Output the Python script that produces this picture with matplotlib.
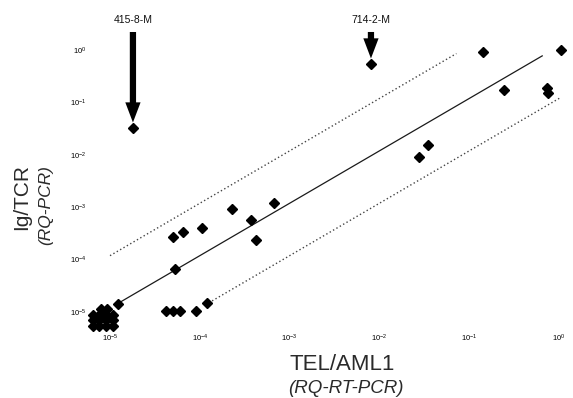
import matplotlib
matplotlib.use("Agg")
import matplotlib.pyplot as plt
from matplotlib.patches import ArrowStyle
import numpy as np

plt.rcParams['font.family'] = ['Liberation Sans', 'DejaVu Sans']

# Quantified MRD samples: TEL/AML1 (RQ-RT-PCR) vs Ig/TCR (RQ-PCR)
tel_aml1 = [5.3e-5, 5.0e-5, 6.5e-5, 1.06e-4, 2.3e-4, 3.7e-4, 4.2e-4, 6.7e-4,
            1.2e-4, 4.2e-5, 5.0e-5, 6.0e-5, 9.1e-5, 1.23e-5,
            2.76e-2, 3.48e-2, 0.143, 1.05, 0.244, 0.735, 0.755]
ig_tcr = [6.6e-5, 2.7e-4, 3.4e-4, 4.0e-4, 9.2e-4, 5.7e-4, 2.37e-4, 1.2e-3,
          1.49e-5, 1.04e-5, 1.04e-5, 1.04e-5, 1.04e-5, 1.42e-5,
          9.1e-3, 1.54e-2, 0.92, 1.0, 0.173, 0.188, 0.151]

# Samples negative by both methods, shown as a block below the detection limit
neg_x = [6.5e-6, 7.6e-6, 9.0e-6, 1.07e-5] * 3 + [7.9e-6, 9.3e-6]
neg_y = [8.8e-6] * 4 + [6.9e-6] * 4 + [5.4e-6] * 4 + [1.12e-5, 1.12e-5]

# Discordant patients
outlier_names = ["415-8-M", "714-2-M"]
outlier_x = [1.8e-5, 8.05e-3]
outlier_y = [3.24e-2, 0.54]
outlier_arrow_px = [108, 44]

# Regression line (log-log) with one-log band either side
fit_slope = 1.0
fit_log_intercept = 0.075
band_decades = 1.0
fit_range = [1.23e-5, 0.65]
upper_range = [1.0e-5, 7.2e-2]
lower_range = [1.37e-4, 1.02]

x_ticks = [1e-5, 1e-4, 1e-3, 1e-2, 1e-1, 1e0]
y_ticks = [1e-5, 1e-4, 1e-3, 1e-2, 1e-1, 1e0]


def line(xr, offset):
    xs = np.array(xr)
    return xs, 10 ** (fit_log_intercept + offset) * xs ** fit_slope


fig = plt.figure(figsize=(5.73, 3.98), dpi=100)
ax = fig.add_axes([0.1536, 0.1683, 0.8412, 0.7312])
ax.set_xscale('log')
ax.set_yscale('log')
ax.set_xlim(10 ** -5.245, 10 ** 0.1225)
ax.set_ylim(10 ** -5.363, 10 ** 0.191)

xs, ys = line(fit_range, 0.0)
ax.plot(xs, ys, color='#1a1a1a', lw=0.9, zorder=2)
xs, ys = line(upper_range, band_decades)
ax.plot(xs, ys, color='#444444', lw=1.0, linestyle=(0, (1, 1.8)), zorder=2)
xs, ys = line(lower_range, -band_decades)
ax.plot(xs, ys, color='#444444', lw=1.0, linestyle=(0, (1, 1.8)), zorder=2)

mk = dict(marker='D', markersize=5.4, color='black', linestyle='none', zorder=3)
ax.plot(tel_aml1, ig_tcr, **mk)
ax.plot(neg_x, neg_y, **mk)
ax.plot(outlier_x, outlier_y, **mk)

for name, x, y, dy in zip(outlier_names, outlier_x, outlier_y, outlier_arrow_px):
    ax.annotate(name, xy=(x, y), xytext=(0, dy), textcoords='offset pixels',
                ha='center', va='center', fontsize=7.5, color='#111111',
                annotation_clip=False,
                arrowprops=dict(arrowstyle=ArrowStyle.Simple(head_length=1.45, head_width=1.1,
                                                             tail_width=0.45),
                                mutation_scale=10, fc='black', ec='black', lw=0,
                                shrinkA=3, shrinkB=4))

for s in ax.spines.values():
    s.set_visible(False)
ax.set_xticks(x_ticks)
ax.set_yticks(y_ticks)
ax.minorticks_off()
ax.tick_params(axis='both', length=0, labelsize=5.5, colors='black')
ax.tick_params(axis='x', pad=1)
ax.tick_params(axis='y', pad=1)

fig.text(0.597, 0.0854, "TEL/AML1", ha='center', va='center', fontsize=16, color='#2a2a2a')
fig.text(0.604, 0.025, "(RQ-RT-PCR)", ha='center', va='center', fontsize=13.5,
         style='italic', color='#2a2a2a')
fig.text(0.037, 0.505, "Ig/TCR", ha='center', va='center', fontsize=15, rotation=90,
         color='#2a2a2a')
fig.text(0.0795, 0.485, "(RQ-PCR)", ha='center', va='center', fontsize=12.5, rotation=90,
         style='italic', color='#2a2a2a')

fig.savefig("out.png", dpi=100)
